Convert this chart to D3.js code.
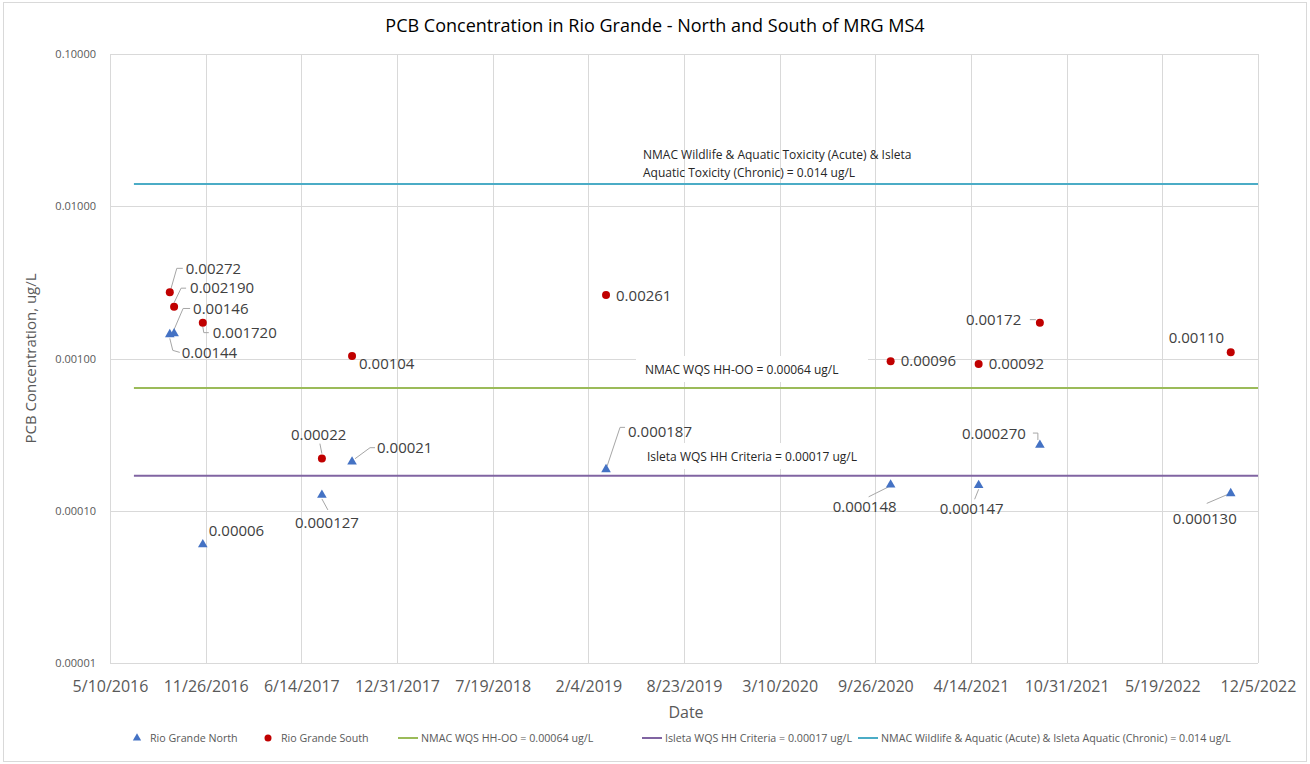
<!DOCTYPE html>
<html>
<head>
<meta charset="utf-8">
<script src="https://cdn.jsdelivr.net/npm/d3@7"></script>
<style>
  body { margin: 0; background: #fff; }
  svg { display: block; font-family: "Open Sans", "Liberation Sans", sans-serif; }
</style>
</head>
<body>
<div id="chart"></div>
<script>
// data
const northDates = ["9/12/2016", "9/21/2016", "11/20/2016", "7/27/2017", "9/28/2017",
  "3/13/2019", "10/28/2020", "4/30/2021", "9/5/2021", "10/9/2022"];
const northValues = [0.00144, 0.00146, 0.00006, 0.000127, 0.00021,
  0.000187, 0.000148, 0.000147, 0.00027, 0.00013];
const northLabels = ["0.00144", "0.00146", "0.00006", "0.000127", "0.00021",
  "0.000187", "0.000148", "0.000147", "0.000270", "0.000130"];

const southDates = ["9/12/2016", "9/21/2016", "11/20/2016", "7/27/2017", "9/28/2017",
  "3/13/2019", "10/28/2020", "4/30/2021", "9/5/2021", "10/9/2022"];
const southValues = [0.00272, 0.00219, 0.00172, 0.00022, 0.00104,
  0.00261, 0.00096, 0.00092, 0.00172, 0.0011];
const southLabels = ["0.00272", "0.002190", "0.001720", "0.00022", "0.00104",
  "0.00261", "0.00096", "0.00092", "0.00172", "0.00110"];

const limitNames = ["NMAC WQS HH-OO = 0.00064 ug/L", "Isleta WQS HH Criteria = 0.00017 ug/L",
  "NMAC Wildlife & Aquatic (Acute) & Isleta Aquatic (Chronic) = 0.014 ug/L"];
const limitValues = [0.00064, 0.00017, 0.014];
const limitStart = "6/29/2016";
const limitEnd = "12/5/2022";
const limitNotes = [["NMAC WQS HH-OO = 0.00064 ug/L"], ["Isleta WQS HH Criteria = 0.00017 ug/L"],
  ["NMAC Wildlife & Aquatic Toxicity (Acute) & Isleta", "Aquatic Toxicity (Chronic) = 0.014 ug/L"]];

const xTickLabels = ["5/10/2016", "11/26/2016", "6/14/2017", "12/31/2017", "7/19/2018", "2/4/2019",
  "8/23/2019", "3/10/2020", "9/26/2020", "4/14/2021", "10/31/2021", "5/19/2022", "12/5/2022"];
const yTicks = [0.00001, 0.0001, 0.001, 0.01, 0.1];

// label placement (pixel offsets from the point): [dx, dy, leader]
const northLabelPos = [
  [12, 18, [[0, 4], [3, 16], [10, 18]]],
  [19, -25, [[0, -4], [9, -25], [16, -25]]],
  [6, -14, null],
  [-27, 28, [[0, 4], [6, 15]]],
  [25, -14, [[3, -3], [18, -14], [23, -14]]],
  [22, -38, [[1, -3], [14, -42], [19, -42]]],
  [-58, 22, [[-2, 2], [-22, 12]]],
  [-39, 23, [[0, 4], [-4, 14]]],
  [-78, -11, [[-2, -5], [-2, -12], [-7, -12]]],
  [-58, 25, [[-3, 1], [-24, 10]]]
];
const southLabelPos = [
  [16, -24, [[1, -3], [7, -24], [13, -24]]],
  [16, -18.5, [[0, -4], [7, -18.5], [12, -18.5]]],
  [10, 10, [[0, 4], [1, 10], [6, 10]]],
  [-31, -24, [[0, -5], [-2, -15]]],
  [7, 8, null],
  [10, 1, null],
  [10, 0, null],
  [10, 0, null],
  [-74, -3, [[-4, -3], [-10, -3]]],
  [-62, -14, null]
];

const W = 1310, H = 764;
const plot = { left: 110, right: 1258, top: 54, bottom: 663 };

const parseDate = d3.utcParse("%m/%d/%Y");
const fmtDate = d3.utcFormat("%-m/%-d/%Y");

const svg = d3.select("#chart").append("svg")
  .attr("width", W)
  .attr("height", H);

// chart frame
svg.append("rect")
  .attr("x", 3.5).attr("y", 2.5)
  .attr("width", W - 7).attr("height", H - 5)
  .attr("fill", "#fff")
  .attr("stroke", "#d9d9d9");

const xTickDates = xTickLabels.map(parseDate);
const x = d3.scaleUtc()
  .domain([xTickDates[0], xTickDates[xTickDates.length - 1]])
  .range([plot.left, plot.right]);

const y = d3.scaleLog()
  .domain([0.00001, 0.1])
  .range([plot.bottom, plot.top]);

// gridlines
svg.append("g")
  .selectAll("line")
  .data(xTickDates)
  .join("line")
  .attr("x1", (d) => Math.round(x(d)) + 0.5)
  .attr("x2", (d) => Math.round(x(d)) + 0.5)
  .attr("y1", plot.top)
  .attr("y2", plot.bottom)
  .attr("stroke", "#d9d9d9");

svg.append("g")
  .selectAll("line")
  .data(yTicks)
  .join("line")
  .attr("x1", plot.left)
  .attr("x2", plot.right)
  .attr("y1", (d) => Math.round(y(d)) + 0.5)
  .attr("y2", (d) => Math.round(y(d)) + 0.5)
  .attr("stroke", "#d9d9d9");

// axes (text only, Excel style)
const xAxis = svg.append("g")
  .attr("transform", `translate(0, ${plot.bottom})`)
  .call(d3.axisBottom(x).tickValues(xTickDates).tickFormat(fmtDate).tickSize(0).tickPadding(18));
xAxis.select(".domain").remove();
xAxis.selectAll("text")
  .attr("fill", "#595959")
  .style("font-size", "16px")
  .style("font-family", "'Open Sans', sans-serif");

const yAxis = svg.append("g")
  .attr("transform", `translate(${plot.left}, 0)`)
  .call(d3.axisLeft(y).tickValues(yTicks).tickFormat((d) => d.toFixed(5)).tickSize(0).tickPadding(14));
yAxis.select(".domain").remove();
yAxis.selectAll("text")
  .attr("fill", "#595959")
  .style("font-size", "11px")
  .style("font-family", "'Open Sans', sans-serif");

// limit lines
const limitColors = ["#9bbb59", "#8064a2", "#4bacc6"];
const limitNoteX = [645, 647, 643];
const limitNoteY = [[374], [461], [159, 177]];

limitValues.forEach((v, i) => {
  const lines = limitNotes[i];
  // white box behind the label, like the Excel text box
  if (i < 2) {
    svg.append("rect")
      .attr("x", limitNoteX[i] - 9)
      .attr("y", limitNoteY[i][0] - 18)
      .attr("width", 232)
      .attr("height", 26)
      .attr("fill", "#fff");
  }
  svg.append("line")
    .attr("x1", x(parseDate(limitStart)))
    .attr("x2", x(parseDate(limitEnd)))
    .attr("y1", y(v))
    .attr("y2", y(v))
    .attr("stroke", limitColors[i])
    .attr("stroke-width", 2);
  lines.forEach((t, j) => {
    svg.append("text")
      .attr("x", limitNoteX[i])
      .attr("y", limitNoteY[i][j])
      .attr("fill", "#262626")
      .style("font-size", "12px")
      .text(t);
  });
});

// series
const north = northDates.map((d, i) => ({ date: parseDate(d), value: northValues[i], label: northLabels[i], pos: northLabelPos[i] }));
const south = southDates.map((d, i) => ({ date: parseDate(d), value: southValues[i], label: southLabels[i], pos: southLabelPos[i] }));

function drawLabels(data) {
  const g = svg.append("g");
  data.forEach((d) => {
    const px = x(d.date), py = y(d.value);
    const [dx, dy, leader] = d.pos;
    if (leader) {
      g.append("polyline")
        .attr("points", leader.map((p) => `${px + p[0]},${py + p[1]}`).join(" "))
        .attr("fill", "none")
        .attr("stroke", "#a6a6a6")
        .attr("stroke-width", 1);
    }
    g.append("text")
      .attr("x", px + dx)
      .attr("y", py + dy)
      .attr("dy", "0.35em")
      .attr("fill", "#404040")
      .style("font-size", "15px")
      .text(d.label);
  });
}
drawLabels(north);
drawLabels(south);

const tri = d3.symbol().type(d3.symbolTriangle).size(40);
svg.append("g")
  .selectAll("path")
  .data(north)
  .join("path")
  .attr("d", tri)
  .attr("transform", (d) => `translate(${x(d.date)}, ${y(d.value)})`)
  .attr("fill", "#4472c4");

svg.append("g")
  .selectAll("circle")
  .data(south)
  .join("circle")
  .attr("cx", (d) => x(d.date))
  .attr("cy", (d) => y(d.value))
  .attr("r", 4)
  .attr("fill", "#c00000");

// titles
svg.append("text")
  .attr("x", 655)
  .attr("y", 32)
  .attr("text-anchor", "middle")
  .attr("fill", "#000")
  .style("font-size", "18px")
  .text("PCB Concentration in Rio Grande - North and South of MRG MS4");

svg.append("text")
  .attr("x", 686)
  .attr("y", 718)
  .attr("text-anchor", "middle")
  .attr("fill", "#595959")
  .style("font-size", "16px")
  .text("Date");

svg.append("text")
  .attr("transform", `translate(36, ${(plot.top + plot.bottom) / 2}) rotate(-90)`)
  .attr("text-anchor", "middle")
  .attr("fill", "#595959")
  .style("font-size", "15px")
  .text("PCB Concentration, ug/L");

// legend
const legend = svg.append("g").attr("transform", "translate(0, 738)");
const legendX = [137, 268, 398, 642, 858];
const legendNames = ["Rio Grande North", "Rio Grande South"].concat(limitNames);
const triSmall = d3.symbol().type(d3.symbolTriangle).size(30);
legendNames.forEach((name, i) => {
  const lx = legendX[i];
  let tx;
  if (i === 0) {
    legend.append("path").attr("d", triSmall).attr("transform", `translate(${lx}, 0)`).attr("fill", "#4472c4");
    tx = lx + 13;
  } else if (i === 1) {
    legend.append("circle").attr("cx", lx).attr("cy", 0).attr("r", 3.5).attr("fill", "#c00000");
    tx = lx + 13;
  } else {
    legend.append("line").attr("x1", lx).attr("x2", lx + 20).attr("y1", 0).attr("y2", 0)
      .attr("stroke", limitColors[i - 2]).attr("stroke-width", 2);
    tx = lx + 23;
  }
  legend.append("text")
    .attr("x", tx)
    .attr("y", 0)
    .attr("dy", "0.35em")
    .attr("fill", "#595959")
    .style("font-size", "10.7px")
    .text(name);
});
</script>
</body>
</html>
